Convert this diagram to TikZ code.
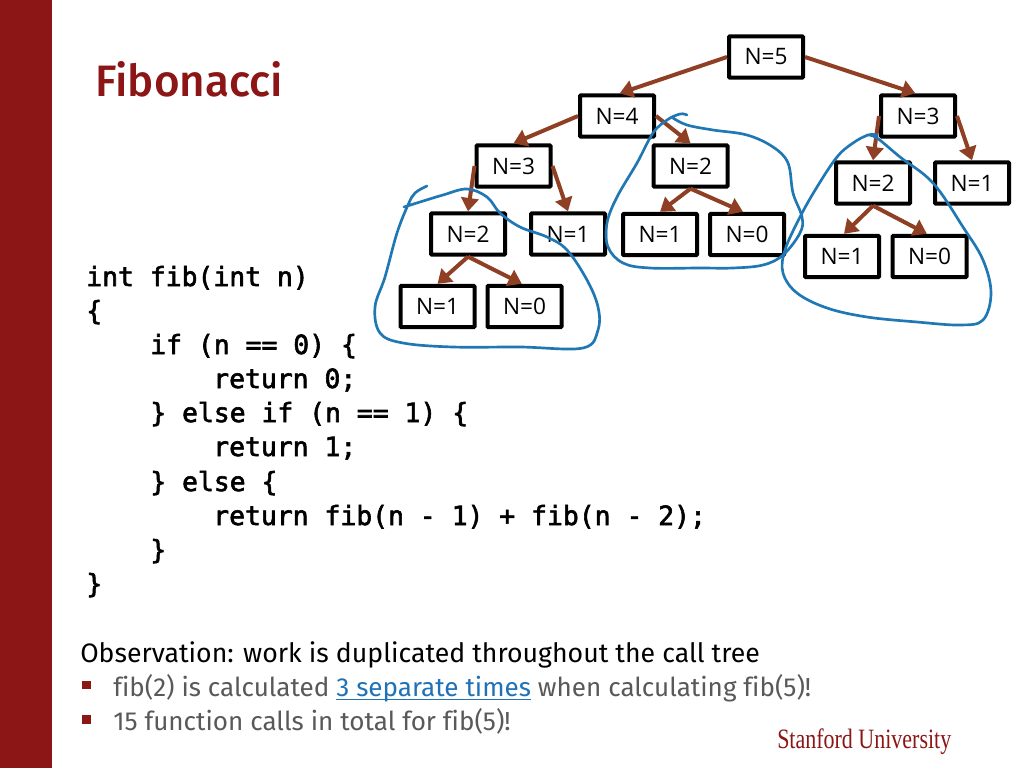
\documentclass[tikz,border=0pt]{standalone}
\usepackage{fontspec}
\usepackage{graphicx}
\usetikzlibrary{arrows.meta}
\setmainfont[Ligatures=NoCommon]{Fira Sans}
\newfontfamily\titlefont{Fira Sans Medium}
\newfontfamily\treefont{Open Sans}
\newfontfamily\codefont[FakeBold=2.2]{DejaVu Sans Mono}
\newfontfamily\logofont{Liberation Serif}
\definecolor{cardinal}{HTML}{8C1515}
\definecolor{edgebrown}{HTML}{8F4024}
\definecolor{inkblue}{HTML}{1F77B4}
\definecolor{bodygrey}{HTML}{595959}
\definecolor{linkblue}{HTML}{1F72B8}
\newcommand\linkul[1]{\setbox0\hbox{#1}\rlap{\vrule width\wd0 height -1.9pt depth 3pt}\box0}
\tikzset{
  x=0.75pt,y=-0.75pt,
  callbox/.style={draw=black,line width=3pt,rounded corners=0.6pt,fill=white,minimum width=55.5pt,minimum height=31pt,inner sep=0pt,font=\treefont\fontsize{17}{18}\selectfont,text=black},
  calledge/.style={draw=edgebrown,line width=3pt,-{Triangle[length=10pt,width=13pt]}},
  pen/.style={draw=inkblue,line width=2pt,line cap=round,line join=round},
  codeline/.style={anchor=base west,inner sep=0pt,font=\codefont\fontsize{19.8}{22}\selectfont,text=black},
  bodyline/.style={anchor=base west,inner sep=0pt,font=\fontsize{19.55}{24}\selectfont},
  bulletmark/.style={fill=cardinal,draw=none,minimum width=6.5pt,minimum height=6.5pt,inner sep=0pt}
}
\begin{document}
\begin{tikzpicture}
\useasboundingbox (0,0) rectangle (1024,768);
\fill[white] (0,0) rectangle (1024,768);
\fill[cardinal] (0,0) rectangle (52,768);
\node[anchor=base west,inner sep=0pt,text=cardinal,font=\titlefont\fontsize{33}{38}\selectfont] (title) at (95,96) {Fibonacci};
% code
\node[codeline] (c1) at (86,286) {int fib(int n)};
\node[codeline] (c2) at (86,320) {\{};
\node[codeline] (c3) at (150,354) {if (n == 0) \{};
\node[codeline] (c4) at (213,388) {return 0;};
\node[codeline] (c5) at (150,422) {\} else if (n == 1) \{};
\node[codeline] (c6) at (213,456) {return 1;};
\node[codeline] (c7) at (150,491) {\} else \{};
\node[codeline] (c8) at (213,525) {return fib(n - 1) + fib(n - 2);};
\node[codeline] (c9) at (150,559) {\}};
\node[codeline] (c10) at (86,593) {\}};
% body
\node[bodyline,text=black,font=\fontsize{20}{24}\selectfont] (obs) at (80,662) {Observation: work is duplicated throughout the call tree};
\node[bulletmark] (b1) at (86.5,685) {};
\node[bodyline,text=bodygrey] (l1) at (113,696) {fib(2) is calculated {\color{linkblue}\linkul{3 separate times}} when calculating fib(5)!};
\node[bulletmark] (b2) at (86.5,719.5) {};
\node[bodyline,text=bodygrey] (l2) at (113,730) {15 function calls in total for fib(5)!};
\node[anchor=base west,inner sep=0pt,text=cardinal,font=\logofont\fontsize{21}{24}\selectfont] (logo) at (777,748) {\scalebox{0.785}[1]{Stanford University}};
% tree
\node[callbox] (n5) at (766,57) {N=5};
\node[callbox] (n4) at (617,116) {N=4};
\node[callbox] (r3) at (918,116) {N=3};
\node[callbox] (l3) at (513.5,166) {N=3};
\node[callbox] (m2) at (690.5,166) {N=2};
\node[callbox] (l2b) at (468,234) {N=2};
\node[callbox] (l1b) at (568,234) {N=1};
\node[callbox] (ll1) at (437.5,306.5) {N=1};
\node[callbox] (ll0) at (524.5,306.5) {N=0};
\node[callbox] (m1) at (660,234.5) {N=1};
\node[callbox] (m0) at (747,234.5) {N=0};
\node[callbox] (r2) at (873,183) {N=2};
\node[callbox] (r1) at (972,183) {N=1};
\node[callbox] (rr1) at (842,256.5) {N=1};
\node[callbox] (rr0) at (929.5,256.5) {N=0};
% edges
\draw[calledge] (n5.west) -- ([xshift=2pt]n4.north);
\draw[calledge] (n5.east) -- ([xshift=-2pt]r3.north);
\draw[calledge] (n4.west) -- (l3.north);
\draw[calledge] (n4.east) -- (m2.north);
\draw[calledge] (l3.west) -- (l2b.north);
\draw[calledge] (l3.east) -- (l1b.north);
\draw[calledge] (m2.south) -- (m1.north);
\draw[calledge] (m2.south) -- ([xshift=-3pt]m0.north);
\draw[calledge] (l2b.south) -- (ll1.north);
\draw[calledge] (l2b.south) -- ([xshift=-2pt]ll0.north);
\draw[calledge] (r3.west) -- (r2.north);
\draw[calledge] (r3.east) -- (r1.north);
\draw[calledge] (r2.south) -- ([xshift=1.5pt]rr1.north);
\draw[calledge] (r2.south) -- ([xshift=-2pt]rr0.north);
% ink
\draw[pen] plot[smooth,tension=0.6] coordinates {(427,186) (415,193) (408,205) (397,233) (385,277) (375,307) (380,333) (403,343) (453,347) (520,347) (583,348) (598,330) (598,307) (587,280) (567,250) (547,237) (520,227) (500,213) (487,197) (467,189) (443,195) (420,202) (404,207)};
\draw[pen] plot[smooth,tension=0.6] coordinates {(687,115) (680,114) (667,120) (653,133) (637,163) (617,197) (607,223) (608,247) (623,263) (650,268) (700,268) (733,268) (763,265) (783,255) (800,233) (802,217) (793,193) (788,163) (773,147) (747,135) (713,130) (687,125) (673,118)};
\draw[pen] plot[smooth,tension=0.6] coordinates {(877,135) (868,135) (853,143) (837,157) (817,187) (800,217) (785,250) (783,273) (797,293) (827,308) (867,317) (917,322) (960,325) (983,320) (991,293) (983,260) (963,227) (933,183) (900,157) (877,138) (867,135)};
\end{tikzpicture}
\end{document}
